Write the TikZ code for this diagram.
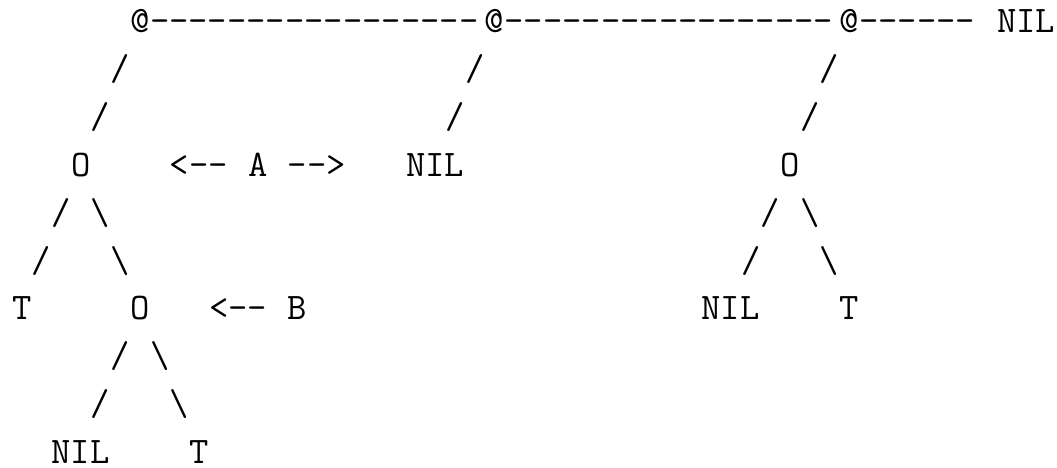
\documentclass[tikz,border=0pt]{standalone}
\tikzset{
  tok/.style={anchor=base west, inner sep=0pt, outer sep=0pt,
    font=\fontsize{37.5}{45}\selectfont\ttfamily, text=black}
}
% place a token at grid column #2, row #3
\newcommand\asc[4]{\node[tok] (#1) at ({12.15+19.7*(#2)},{-(33+47.8*(#3))}) {#4};}
\newcommand\bsl{\textbackslash}
\begin{document}
\begin{tikzpicture}[x=1pt,y=1pt]
\useasboundingbox (0,0) rectangle (1057,-468);
% row 0
\asc{c1}{6}{0}{@}
\asc{d1}{7}{0}{-{}-{}-{}-{}-{}-{}-{}-{}-{}-{}-{}-{}-{}-{}-{}-{}-}
\asc{c2}{24}{0}{@}
\asc{d2}{25}{0}{-{}-{}-{}-{}-{}-{}-{}-{}-{}-{}-{}-{}-{}-{}-{}-{}-}
\asc{c3}{42}{0}{@}
\asc{d3}{43}{0}{-{}-{}-{}-{}-{}-}
\asc{nilend}{50}{0}{NIL}
% row 1
\asc{s11}{5}{1}{/}
\asc{s12}{23}{1}{/}
\asc{s13}{41}{1}{/}
% row 2
\asc{s21}{4}{2}{/}
\asc{s22}{22}{2}{/}
\asc{s23}{40}{2}{/}
% row 3
\asc{o1}{3}{3}{O}
\asc{al}{8}{3}{<-{}-}
\asc{A}{12}{3}{A}
\asc{ar}{14}{3}{-{}->}
\asc{nil2}{20}{3}{NIL}
\asc{o3}{39}{3}{O}
% row 4
\asc{s41}{2}{4}{/}
\asc{b41}{4}{4}{\bsl}
\asc{s43}{38}{4}{/}
\asc{b43}{40}{4}{\bsl}
% row 5
\asc{s51}{1}{5}{/}
\asc{b51}{5}{5}{\bsl}
\asc{s53}{37}{5}{/}
\asc{b53}{41}{5}{\bsl}
% row 6
\asc{t1}{0}{6}{T}
\asc{o2}{6}{6}{O}
\asc{bl}{10}{6}{<-{}-}
\asc{B}{14}{6}{B}
\asc{nil3}{35}{6}{NIL}
\asc{t3}{42}{6}{T}
% row 7
\asc{s71}{5}{7}{/}
\asc{b71}{7}{7}{\bsl}
% row 8
\asc{s81}{4}{8}{/}
\asc{b81}{8}{8}{\bsl}
% row 9
\asc{nil4}{2}{9}{NIL}
\asc{t2}{9}{9}{T}
\end{tikzpicture}
\end{document}
